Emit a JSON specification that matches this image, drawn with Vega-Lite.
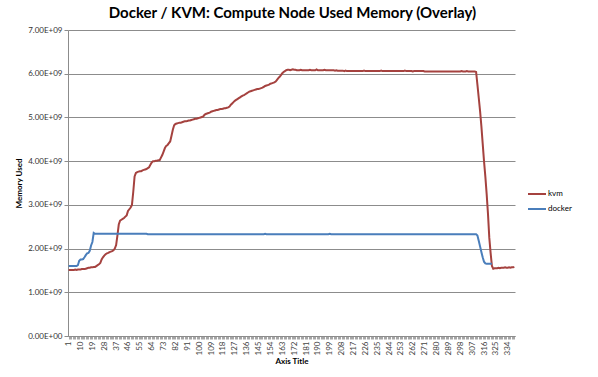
{
"$schema": "https://vega.github.io/schema/vega-lite/v6.json",
"width": 447, "height": 306,
"autosize": {"type": "none"},
"padding": {"left": 68, "top": 30, "right": 83, "bottom": 41},
"background": "white",
"title": {"text": "Docker / KVM: Compute Node Used Memory (Overlay)", "font": "Lato", "fontSize": 15, "fontWeight": "bold", "color": "#000000", "anchor": "middle", "frame": "group", "offset": 5, "dx": 1},
"config": {"view": {"stroke": null}, "font": "Lato"},
"data": {"values": [
{"i":1,"kvm":1.51e9,"docker":1.60e9},{"i":2,"kvm":1.51e9,"docker":1.60e9},{"i":3,"kvm":1.51e9,"docker":1.60e9},{"i":4,"kvm":1.51e9,"docker":1.60e9},{"i":5,"kvm":1.51e9,"docker":1.60e9},
{"i":6,"kvm":1.52e9,"docker":1.60e9},{"i":7,"kvm":1.51e9,"docker":1.60e9},{"i":8,"kvm":1.52e9,"docker":1.62e9},{"i":9,"kvm":1.52e9,"docker":1.72e9},{"i":10,"kvm":1.52e9,"docker":1.75e9},
{"i":11,"kvm":1.53e9,"docker":1.75e9},{"i":12,"kvm":1.53e9,"docker":1.76e9},{"i":13,"kvm":1.53e9,"docker":1.80e9},{"i":14,"kvm":1.54e9,"docker":1.85e9},{"i":15,"kvm":1.55e9,"docker":1.89e9},
{"i":16,"kvm":1.56e9,"docker":1.90e9},{"i":17,"kvm":1.56e9,"docker":1.95e9},{"i":18,"kvm":1.57e9,"docker":2.07e9},{"i":19,"kvm":1.57e9,"docker":2.15e9},{"i":20,"kvm":1.58e9,"docker":2.36e9},
{"i":21,"kvm":1.58e9,"docker":2.34e9},{"i":22,"kvm":1.60e9,"docker":2.34e9},{"i":23,"kvm":1.62e9,"docker":2.34e9},{"i":24,"kvm":1.64e9,"docker":2.34e9},{"i":25,"kvm":1.67e9,"docker":2.34e9},
{"i":26,"kvm":1.75e9,"docker":2.34e9},{"i":27,"kvm":1.80e9,"docker":2.34e9},{"i":28,"kvm":1.84e9,"docker":2.34e9},{"i":29,"kvm":1.87e9,"docker":2.34e9},{"i":30,"kvm":1.89e9,"docker":2.34e9},
{"i":31,"kvm":1.90e9,"docker":2.34e9},{"i":32,"kvm":1.92e9,"docker":2.34e9},{"i":33,"kvm":1.93e9,"docker":2.34e9},{"i":34,"kvm":1.94e9,"docker":2.34e9},{"i":35,"kvm":1.96e9,"docker":2.34e9},
{"i":36,"kvm":2.00e9,"docker":2.34e9},{"i":37,"kvm":2.08e9,"docker":2.34e9},{"i":38,"kvm":2.30e9,"docker":2.34e9},{"i":39,"kvm":2.55e9,"docker":2.34e9},{"i":40,"kvm":2.64e9,"docker":2.34e9},
{"i":41,"kvm":2.66e9,"docker":2.34e9},{"i":42,"kvm":2.68e9,"docker":2.34e9},{"i":43,"kvm":2.70e9,"docker":2.34e9},{"i":44,"kvm":2.73e9,"docker":2.34e9},{"i":45,"kvm":2.76e9,"docker":2.34e9},
{"i":46,"kvm":2.86e9,"docker":2.34e9},{"i":47,"kvm":2.90e9,"docker":2.34e9},{"i":48,"kvm":2.94e9,"docker":2.34e9},{"i":49,"kvm":3.00e9,"docker":2.34e9},{"i":50,"kvm":3.30e9,"docker":2.34e9},
{"i":51,"kvm":3.65e9,"docker":2.34e9},{"i":52,"kvm":3.73e9,"docker":2.34e9},{"i":53,"kvm":3.75e9,"docker":2.34e9},{"i":54,"kvm":3.76e9,"docker":2.34e9},{"i":55,"kvm":3.77e9,"docker":2.34e9},
{"i":56,"kvm":3.77e9,"docker":2.34e9},{"i":57,"kvm":3.79e9,"docker":2.34e9},{"i":58,"kvm":3.80e9,"docker":2.34e9},{"i":59,"kvm":3.81e9,"docker":2.34e9},{"i":60,"kvm":3.82e9,"docker":2.34e9},
{"i":61,"kvm":3.84e9,"docker":2.33e9},{"i":62,"kvm":3.86e9,"docker":2.33e9},{"i":63,"kvm":3.92e9,"docker":2.33e9},{"i":64,"kvm":3.97e9,"docker":2.33e9},{"i":65,"kvm":4.00e9,"docker":2.33e9},
{"i":66,"kvm":4.00e9,"docker":2.33e9},{"i":67,"kvm":4.01e9,"docker":2.33e9},{"i":68,"kvm":4.01e9,"docker":2.33e9},{"i":69,"kvm":4.02e9,"docker":2.33e9},{"i":70,"kvm":4.02e9,"docker":2.33e9},
{"i":71,"kvm":4.08e9,"docker":2.33e9},{"i":72,"kvm":4.14e9,"docker":2.33e9},{"i":73,"kvm":4.22e9,"docker":2.33e9},{"i":74,"kvm":4.30e9,"docker":2.33e9},{"i":75,"kvm":4.35e9,"docker":2.33e9},
{"i":76,"kvm":4.37e9,"docker":2.33e9},{"i":77,"kvm":4.41e9,"docker":2.33e9},{"i":78,"kvm":4.45e9,"docker":2.33e9},{"i":79,"kvm":4.58e9,"docker":2.33e9},{"i":80,"kvm":4.72e9,"docker":2.33e9},
{"i":81,"kvm":4.82e9,"docker":2.33e9},{"i":82,"kvm":4.85e9,"docker":2.33e9},{"i":83,"kvm":4.86e9,"docker":2.33e9},{"i":84,"kvm":4.87e9,"docker":2.33e9},{"i":85,"kvm":4.88e9,"docker":2.33e9},
{"i":86,"kvm":4.88e9,"docker":2.33e9},{"i":87,"kvm":4.89e9,"docker":2.33e9},{"i":88,"kvm":4.90e9,"docker":2.33e9},{"i":89,"kvm":4.91e9,"docker":2.33e9},{"i":90,"kvm":4.91e9,"docker":2.33e9},
{"i":91,"kvm":4.92e9,"docker":2.33e9},{"i":92,"kvm":4.93e9,"docker":2.33e9},{"i":93,"kvm":4.93e9,"docker":2.33e9},{"i":94,"kvm":4.94e9,"docker":2.33e9},{"i":95,"kvm":4.95e9,"docker":2.33e9},
{"i":96,"kvm":4.96e9,"docker":2.33e9},{"i":97,"kvm":4.97e9,"docker":2.33e9},{"i":98,"kvm":4.97e9,"docker":2.33e9},{"i":99,"kvm":4.98e9,"docker":2.33e9},{"i":100,"kvm":4.99e9,"docker":2.33e9},
{"i":101,"kvm":5.00e9,"docker":2.33e9},{"i":102,"kvm":5.01e9,"docker":2.33e9},{"i":103,"kvm":5.02e9,"docker":2.33e9},{"i":104,"kvm":5.06e9,"docker":2.33e9},{"i":105,"kvm":5.08e9,"docker":2.33e9},
{"i":106,"kvm":5.09e9,"docker":2.33e9},{"i":107,"kvm":5.10e9,"docker":2.33e9},{"i":108,"kvm":5.11e9,"docker":2.33e9},{"i":109,"kvm":5.13e9,"docker":2.33e9},{"i":110,"kvm":5.14e9,"docker":2.33e9},
{"i":111,"kvm":5.15e9,"docker":2.33e9},{"i":112,"kvm":5.16e9,"docker":2.33e9},{"i":113,"kvm":5.17e9,"docker":2.33e9},{"i":114,"kvm":5.17e9,"docker":2.33e9},{"i":115,"kvm":5.18e9,"docker":2.33e9},
{"i":116,"kvm":5.19e9,"docker":2.33e9},{"i":117,"kvm":5.19e9,"docker":2.33e9},{"i":118,"kvm":5.20e9,"docker":2.33e9},{"i":119,"kvm":5.21e9,"docker":2.33e9},{"i":120,"kvm":5.21e9,"docker":2.33e9},
{"i":121,"kvm":5.22e9,"docker":2.33e9},{"i":122,"kvm":5.23e9,"docker":2.33e9},{"i":123,"kvm":5.25e9,"docker":2.33e9},{"i":124,"kvm":5.29e9,"docker":2.33e9},{"i":125,"kvm":5.32e9,"docker":2.33e9},
{"i":126,"kvm":5.35e9,"docker":2.33e9},{"i":127,"kvm":5.38e9,"docker":2.33e9},{"i":128,"kvm":5.40e9,"docker":2.33e9},{"i":129,"kvm":5.42e9,"docker":2.33e9},{"i":130,"kvm":5.44e9,"docker":2.33e9},
{"i":131,"kvm":5.46e9,"docker":2.33e9},{"i":132,"kvm":5.48e9,"docker":2.33e9},{"i":133,"kvm":5.50e9,"docker":2.33e9},{"i":134,"kvm":5.51e9,"docker":2.33e9},{"i":135,"kvm":5.53e9,"docker":2.33e9},
{"i":136,"kvm":5.55e9,"docker":2.33e9},{"i":137,"kvm":5.57e9,"docker":2.33e9},{"i":138,"kvm":5.59e9,"docker":2.33e9},{"i":139,"kvm":5.60e9,"docker":2.33e9},{"i":140,"kvm":5.61e9,"docker":2.33e9},
{"i":141,"kvm":5.62e9,"docker":2.33e9},{"i":142,"kvm":5.63e9,"docker":2.33e9},{"i":143,"kvm":5.64e9,"docker":2.33e9},{"i":144,"kvm":5.65e9,"docker":2.33e9},{"i":145,"kvm":5.65e9,"docker":2.33e9},
{"i":146,"kvm":5.66e9,"docker":2.33e9},{"i":147,"kvm":5.67e9,"docker":2.33e9},{"i":148,"kvm":5.68e9,"docker":2.33e9},{"i":149,"kvm":5.70e9,"docker":2.33e9},{"i":150,"kvm":5.72e9,"docker":2.34e9},
{"i":151,"kvm":5.73e9,"docker":2.33e9},{"i":152,"kvm":5.74e9,"docker":2.33e9},{"i":153,"kvm":5.75e9,"docker":2.33e9},{"i":154,"kvm":5.77e9,"docker":2.33e9},{"i":155,"kvm":5.78e9,"docker":2.33e9},
{"i":156,"kvm":5.79e9,"docker":2.33e9},{"i":157,"kvm":5.80e9,"docker":2.33e9},{"i":158,"kvm":5.82e9,"docker":2.33e9},{"i":159,"kvm":5.86e9,"docker":2.33e9},{"i":160,"kvm":5.90e9,"docker":2.33e9},
{"i":161,"kvm":5.93e9,"docker":2.33e9},{"i":162,"kvm":5.97e9,"docker":2.33e9},{"i":163,"kvm":6.01e9,"docker":2.33e9},{"i":164,"kvm":6.04e9,"docker":2.33e9},{"i":165,"kvm":6.06e9,"docker":2.33e9},
{"i":166,"kvm":6.08e9,"docker":2.33e9},{"i":167,"kvm":6.09e9,"docker":2.33e9},{"i":168,"kvm":6.09e9,"docker":2.33e9},{"i":169,"kvm":6.08e9,"docker":2.33e9},{"i":170,"kvm":6.09e9,"docker":2.33e9},
{"i":171,"kvm":6.10e9,"docker":2.33e9},{"i":172,"kvm":6.09e9,"docker":2.33e9},{"i":173,"kvm":6.09e9,"docker":2.33e9},{"i":174,"kvm":6.08e9,"docker":2.33e9},{"i":175,"kvm":6.08e9,"docker":2.33e9},
{"i":176,"kvm":6.08e9,"docker":2.33e9},{"i":177,"kvm":6.09e9,"docker":2.33e9},{"i":178,"kvm":6.08e9,"docker":2.33e9},{"i":179,"kvm":6.08e9,"docker":2.33e9},{"i":180,"kvm":6.08e9,"docker":2.33e9},
{"i":181,"kvm":6.08e9,"docker":2.33e9},{"i":182,"kvm":6.08e9,"docker":2.33e9},{"i":183,"kvm":6.08e9,"docker":2.33e9},{"i":184,"kvm":6.09e9,"docker":2.33e9},{"i":185,"kvm":6.08e9,"docker":2.33e9},
{"i":186,"kvm":6.08e9,"docker":2.33e9},{"i":187,"kvm":6.08e9,"docker":2.33e9},{"i":188,"kvm":6.08e9,"docker":2.33e9},{"i":189,"kvm":6.10e9,"docker":2.33e9},{"i":190,"kvm":6.08e9,"docker":2.33e9},
{"i":191,"kvm":6.08e9,"docker":2.33e9},{"i":192,"kvm":6.08e9,"docker":2.33e9},{"i":193,"kvm":6.08e9,"docker":2.33e9},{"i":194,"kvm":6.08e9,"docker":2.33e9},{"i":195,"kvm":6.09e9,"docker":2.33e9},
{"i":196,"kvm":6.08e9,"docker":2.33e9},{"i":197,"kvm":6.08e9,"docker":2.33e9},{"i":198,"kvm":6.08e9,"docker":2.33e9},{"i":199,"kvm":6.08e9,"docker":2.34e9},{"i":200,"kvm":6.08e9,"docker":2.33e9},
{"i":201,"kvm":6.08e9,"docker":2.33e9},{"i":202,"kvm":6.08e9,"docker":2.33e9},{"i":203,"kvm":6.07e9,"docker":2.33e9},{"i":204,"kvm":6.08e9,"docker":2.33e9},{"i":205,"kvm":6.07e9,"docker":2.33e9},
{"i":206,"kvm":6.07e9,"docker":2.33e9},{"i":207,"kvm":6.07e9,"docker":2.33e9},{"i":208,"kvm":6.07e9,"docker":2.33e9},{"i":209,"kvm":6.07e9,"docker":2.33e9},{"i":210,"kvm":6.06e9,"docker":2.33e9},
{"i":211,"kvm":6.07e9,"docker":2.33e9},{"i":212,"kvm":6.06e9,"docker":2.33e9},{"i":213,"kvm":6.06e9,"docker":2.33e9},{"i":214,"kvm":6.06e9,"docker":2.33e9},{"i":215,"kvm":6.06e9,"docker":2.33e9},
{"i":216,"kvm":6.06e9,"docker":2.33e9},{"i":217,"kvm":6.06e9,"docker":2.33e9},{"i":218,"kvm":6.06e9,"docker":2.33e9},{"i":219,"kvm":6.06e9,"docker":2.33e9},{"i":220,"kvm":6.06e9,"docker":2.33e9},
{"i":221,"kvm":6.06e9,"docker":2.33e9},{"i":222,"kvm":6.06e9,"docker":2.33e9},{"i":223,"kvm":6.06e9,"docker":2.33e9},{"i":224,"kvm":6.06e9,"docker":2.33e9},{"i":225,"kvm":6.07e9,"docker":2.33e9},
{"i":226,"kvm":6.06e9,"docker":2.33e9},{"i":227,"kvm":6.06e9,"docker":2.33e9},{"i":228,"kvm":6.06e9,"docker":2.33e9},{"i":229,"kvm":6.06e9,"docker":2.33e9},{"i":230,"kvm":6.06e9,"docker":2.33e9},
{"i":231,"kvm":6.06e9,"docker":2.33e9},{"i":232,"kvm":6.06e9,"docker":2.33e9},{"i":233,"kvm":6.06e9,"docker":2.33e9},{"i":234,"kvm":6.06e9,"docker":2.33e9},{"i":235,"kvm":6.06e9,"docker":2.33e9},
{"i":236,"kvm":6.06e9,"docker":2.33e9},{"i":237,"kvm":6.06e9,"docker":2.33e9},{"i":238,"kvm":6.07e9,"docker":2.33e9},{"i":239,"kvm":6.06e9,"docker":2.33e9},{"i":240,"kvm":6.06e9,"docker":2.33e9},
{"i":241,"kvm":6.06e9,"docker":2.33e9},{"i":242,"kvm":6.06e9,"docker":2.33e9},{"i":243,"kvm":6.06e9,"docker":2.33e9},{"i":244,"kvm":6.06e9,"docker":2.33e9},{"i":245,"kvm":6.06e9,"docker":2.33e9},
{"i":246,"kvm":6.06e9,"docker":2.33e9},{"i":247,"kvm":6.06e9,"docker":2.33e9},{"i":248,"kvm":6.06e9,"docker":2.33e9},{"i":249,"kvm":6.06e9,"docker":2.33e9},{"i":250,"kvm":6.06e9,"docker":2.33e9},
{"i":251,"kvm":6.06e9,"docker":2.33e9},{"i":252,"kvm":6.06e9,"docker":2.33e9},{"i":253,"kvm":6.06e9,"docker":2.33e9},{"i":254,"kvm":6.06e9,"docker":2.33e9},{"i":255,"kvm":6.06e9,"docker":2.33e9},
{"i":256,"kvm":6.07e9,"docker":2.33e9},{"i":257,"kvm":6.06e9,"docker":2.33e9},{"i":258,"kvm":6.06e9,"docker":2.33e9},{"i":259,"kvm":6.06e9,"docker":2.33e9},{"i":260,"kvm":6.06e9,"docker":2.33e9},
{"i":261,"kvm":6.06e9,"docker":2.33e9},{"i":262,"kvm":6.05e9,"docker":2.33e9},{"i":263,"kvm":6.06e9,"docker":2.33e9},{"i":264,"kvm":6.06e9,"docker":2.33e9},{"i":265,"kvm":6.06e9,"docker":2.33e9},
{"i":266,"kvm":6.06e9,"docker":2.33e9},{"i":267,"kvm":6.06e9,"docker":2.33e9},{"i":268,"kvm":6.06e9,"docker":2.33e9},{"i":269,"kvm":6.06e9,"docker":2.33e9},{"i":270,"kvm":6.06e9,"docker":2.33e9},
{"i":271,"kvm":6.05e9,"docker":2.33e9},{"i":272,"kvm":6.05e9,"docker":2.33e9},{"i":273,"kvm":6.05e9,"docker":2.33e9},{"i":274,"kvm":6.05e9,"docker":2.33e9},{"i":275,"kvm":6.05e9,"docker":2.33e9},
{"i":276,"kvm":6.05e9,"docker":2.33e9},{"i":277,"kvm":6.05e9,"docker":2.33e9},{"i":278,"kvm":6.05e9,"docker":2.33e9},{"i":279,"kvm":6.05e9,"docker":2.33e9},{"i":280,"kvm":6.05e9,"docker":2.33e9},
{"i":281,"kvm":6.05e9,"docker":2.33e9},{"i":282,"kvm":6.05e9,"docker":2.33e9},{"i":283,"kvm":6.05e9,"docker":2.33e9},{"i":284,"kvm":6.05e9,"docker":2.33e9},{"i":285,"kvm":6.05e9,"docker":2.33e9},
{"i":286,"kvm":6.05e9,"docker":2.33e9},{"i":287,"kvm":6.05e9,"docker":2.33e9},{"i":288,"kvm":6.05e9,"docker":2.33e9},{"i":289,"kvm":6.05e9,"docker":2.33e9},{"i":290,"kvm":6.05e9,"docker":2.33e9},
{"i":291,"kvm":6.05e9,"docker":2.33e9},{"i":292,"kvm":6.05e9,"docker":2.33e9},{"i":293,"kvm":6.05e9,"docker":2.33e9},{"i":294,"kvm":6.05e9,"docker":2.33e9},{"i":295,"kvm":6.05e9,"docker":2.33e9},
{"i":296,"kvm":6.05e9,"docker":2.33e9},{"i":297,"kvm":6.05e9,"docker":2.33e9},{"i":298,"kvm":6.05e9,"docker":2.33e9},{"i":299,"kvm":6.06e9,"docker":2.33e9},{"i":300,"kvm":6.05e9,"docker":2.33e9},
{"i":301,"kvm":6.05e9,"docker":2.33e9},{"i":302,"kvm":6.05e9,"docker":2.33e9},{"i":303,"kvm":6.06e9,"docker":2.33e9},{"i":304,"kvm":6.05e9,"docker":2.33e9},{"i":305,"kvm":6.05e9,"docker":2.33e9},
{"i":306,"kvm":6.05e9,"docker":2.33e9},{"i":307,"kvm":6.05e9,"docker":2.33e9},{"i":308,"kvm":6.05e9,"docker":2.33e9},{"i":309,"kvm":6.05e9,"docker":2.33e9},{"i":310,"kvm":6.04e9,"docker":2.33e9},
{"i":311,"kvm":5.75e9,"docker":2.30e9},{"i":312,"kvm":5.45e9,"docker":2.18e9},{"i":313,"kvm":5.15e9,"docker":2.05e9},{"i":314,"kvm":4.80e9,"docker":1.92e9},{"i":315,"kvm":4.40e9,"docker":1.80e9},
{"i":316,"kvm":4.00e9,"docker":1.70e9},{"i":317,"kvm":3.65e9,"docker":1.66e9},{"i":318,"kvm":3.25e9,"docker":1.65e9},{"i":319,"kvm":2.80e9,"docker":1.65e9},{"i":320,"kvm":2.25e9,"docker":1.65e9},
{"i":321,"kvm":1.90e9,"docker":1.65e9},{"i":322,"kvm":1.60e9,"docker":1.65e9},{"i":323,"kvm":1.54e9},{"i":324,"kvm":1.55e9},{"i":325,"kvm":1.55e9},
{"i":326,"kvm":1.55e9},{"i":327,"kvm":1.56e9},{"i":328,"kvm":1.55e9},{"i":329,"kvm":1.56e9},{"i":330,"kvm":1.56e9},
{"i":331,"kvm":1.56e9},{"i":332,"kvm":1.57e9},{"i":333,"kvm":1.56e9},{"i":334,"kvm":1.56e9},{"i":335,"kvm":1.57e9},
{"i":336,"kvm":1.56e9},{"i":337,"kvm":1.57e9},{"i":338,"kvm":1.57e9},{"i":339,"kvm":1.58e9}
]},
"transform": [
{"fold": ["kvm", "docker"], "as": ["series", "mem"]},
{"filter": "isValid(datum.mem)"}
],
"mark": {"type": "line", "strokeWidth": 2},
"encoding": {
"x": {"field": "i", "type": "ordinal", "scale": {"type": "point", "padding": 0.5},
  "axis": {"title": "Axis Title", "titleFontSize": 8, "titleFontWeight": "bold", "titleColor": "#000000", "titlePadding": 3,
    "labelAngle": -90, "labelFontSize": 8, "labelColor": "#444444", "labelPadding": 2, "labelOverlap": false,
    "labelExpr": "(datum.value - 1) % 9 == 0 ? datum.label : ''",
    "tickSize": 3, "tickColor": "#a6a6a6", "domainColor": "#8c8c8c", "grid": false}},
"y": {"field": "mem", "type": "quantitative", "scale": {"domain": [0, 7e9], "nice": false},
  "axis": {"title": "Memory Used", "titleFontSize": 8, "titleFontWeight": "bold", "titleColor": "#000000", "titlePadding": 4,
    "values": [0, 1e9, 2e9, 3e9, 4e9, 5e9, 6e9, 7e9],
    "labelExpr": "format(datum.value / 1e9, '.2f') + (datum.value == 0 ? 'E+00' : 'E+09')",
    "labelFontSize": 8, "labelColor": "#333333", "labelPadding": 2,
    "tickSize": 4, "tickColor": "#8c8c8c", "domainColor": "#8c8c8c", "grid": true, "gridColor": "#8c8c8c", "gridWidth": 1}},
"color": {"field": "series", "type": "nominal",
  "scale": {"domain": ["kvm", "docker"], "range": ["#A5423F", "#4A7EBB"]},
  "legend": {"title": null, "orient": "none", "legendX": 459, "legendY": 154, "symbolType": "stroke", "symbolSize": 324, "symbolStrokeWidth": 2, "labelFontSize": 8, "labelColor": "#000000", "labelOffset": 1, "rowPadding": 1}}
}
}
